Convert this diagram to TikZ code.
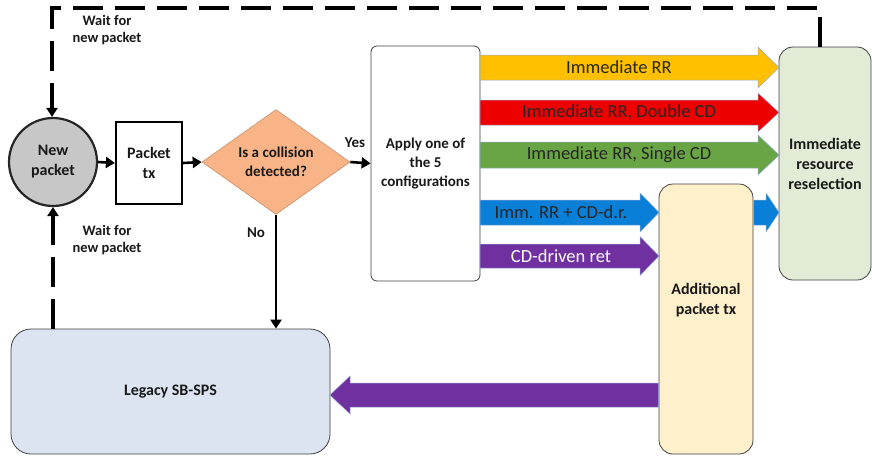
\documentclass[tikz,border=0pt]{standalone}
\usepackage{fontspec}
\setmainfont{Carlito}
\usetikzlibrary{shapes.geometric,arrows.meta}
\definecolor{cyel}{HTML}{FFC000}
\definecolor{cred}{HTML}{EE0000}
\definecolor{cgrn}{HTML}{6AA545}
\definecolor{cblu}{HTML}{0A7FD8}
\definecolor{cpur}{HTML}{7030A0}
\definecolor{corg}{HTML}{F8B486}
\definecolor{cgreenbox}{HTML}{E2EBD6}
\definecolor{cyelbox}{HTML}{FFF0CC}
\definecolor{cbluebox}{HTML}{DCE4F2}
\definecolor{cedge}{HTML}{8FA9D0}
\newcommand\blockarr[7]{%
  \fill[#1, draw=cedge, line width=0.5pt] ({#2},{#4-#5}) -- ({#3-#7},{#4-#5}) -- ({#3-#7},{#4-#6}) -- ({#3},{#4}) -- ({#3-#7},{#4+#6}) -- ({#3-#7},{#4+#5}) -- ({#2},{#4+#5}) -- cycle;}
\begin{document}
\begin{tikzpicture}[x=1pt,y=-1pt,
  bold/.style={font=\bfseries\fontsize{16}{20}\selectfont, align=center, text=black!90},
  arrlabel/.style={font=\fontsize{18.5}{22}\selectfont, inner sep=0pt},
  procbox/.style={draw=black!75, line width=0.8pt, bold, inner sep=0pt},
  flow/.style={line width=2.6pt, -{Triangle[length=9pt,width=11pt]}},
  waitline/.style={line width=3.6pt, dash pattern=on 30pt off 12pt},
  waitarrow/.style={waitline, -{Triangle[length=9pt,width=11pt]}}]
\useasboundingbox (0,0) rectangle (872,458);
% nodes
\node[circle, draw=black!85, line width=2.2pt, fill=black!22, minimum size=88pt, bold, inner sep=0pt] (new) at (53,162) {New\\packet};
\node[rectangle, draw=black, line width=2.2pt, minimum width=66pt, minimum height=82pt, bold, inner sep=0pt] (tx) at (149,163) {Packet\\tx};
\node[diamond, fill=corg, draw=corg!80!black, line width=0.6pt, minimum width=148pt, minimum height=100pt, inner sep=0pt, bold, font=\bfseries\fontsize{15}{19}\selectfont] (coll) at (276,162) {Is a collision\\detected?};
\node[procbox, rounded corners=6pt, fill=white, minimum width=109pt, minimum height=235pt, font=\bfseries\fontsize{15}{19}\selectfont] (apply) at (425.5,163.5) {Apply one of\\the 5\\configurations};
\node[procbox, rounded corners=14pt, fill=cgreenbox, minimum width=92pt, minimum height=233pt] (green) at (825,163.5) {Immediate\\resource\\reselection};
\node[procbox, rounded corners=14pt, fill=cyelbox, minimum width=94pt, minimum height=270pt] (add) at (706,319) {};
\node[bold] (addtxt) at (706,300) {Additional\\packet tx};
\node[procbox, rounded corners=20pt, fill=cbluebox, minimum width=319pt, minimum height=125pt] (legacy) at (170.5,391.5) {Legacy SB-SPS};
% flow arrows
\draw[flow] (new.east) -- (tx.west);
\draw[flow] (tx.east) -- (coll.west);
\draw[flow] (coll.east) -- (apply.west);
\node[bold, font=\bfseries\fontsize{15}{18}\selectfont] (yes) at (355,143) {Yes};
\draw[flow] (coll.south) -- (coll.south |- legacy.north);
\node[bold, font=\bfseries\fontsize{15}{18}\selectfont] (no) at (256,233) {No};
% wait lines
\coordinate (tl) at (52,8);
\draw[waitarrow] ([xshift=-5pt]green.north) |- (tl) -- (tl |- new.north);
\draw[waitarrow] (new.south |- legacy.north) -- (new.south);
\node[bold, font=\bfseries\fontsize{14.5}{17}\selectfont] (w1) at (107,30) {Wait for\\new packet};
\node[bold, font=\bfseries\fontsize{14.5}{17}\selectfont] (w2) at (107,240) {Wait for\\new packet};
% block arrows
\blockarr{cyel}{480}{779}{67.5}{12.5}{20.5}{21}
\node[arrlabel, text=black!85] (l1) at (619,67.5) {Immediate RR};
\blockarr{cred}{480}{779}{112.5}{12.5}{19.5}{21}
\node[arrlabel, text=black!85] (l2) at (619,112.5) {Immediate RR, Double CD};
\blockarr{cgrn}{480}{779}{155}{13}{20}{21}
\node[arrlabel, text=black!85] (l3) at (619,155) {Immediate RR, Single CD};
\blockarr{cblu}{480}{659}{212.5}{12.5}{19.5}{19}
\node[arrlabel, text=black!85] (l4) at (561,212.5) {Imm. RR + CD-d.r.};
\blockarr{cblu}{753.5}{779}{212.5}{12.5}{19.5}{13}
\blockarr{cpur}{480}{659}{256}{12}{19.5}{19}
\node[arrlabel, text=white] (l5) at (561,256) {CD-driven ret};
\blockarr{cpur}{658.5}{330}{395}{12}{19}{-20}
\end{tikzpicture}
\end{document}
